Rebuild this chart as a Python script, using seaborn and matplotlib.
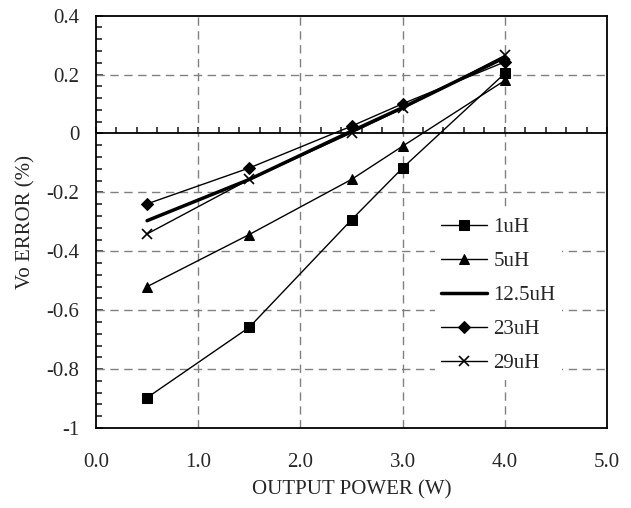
import numpy as np
import pandas as pd
import matplotlib
matplotlib.use("Agg")
import matplotlib.pyplot as plt
import seaborn as sns
from matplotlib.ticker import MultipleLocator, FixedLocator

# ---- data ----
power = [0.5, 1.5, 2.5, 3.0, 4.0]
err_1uH = [-0.897, -0.658, -0.293, -0.117, 0.204]
err_5uH = [-0.52, -0.343, -0.156, -0.043, 0.18]
err_12_5uH = [-0.296, -0.156, 0.008, 0.088, 0.258]
err_23uH = [-0.239, -0.117, 0.025, 0.101, 0.243]
err_29uH = [-0.341, -0.156, 0.002, 0.085, 0.265]
series_names = ["1uH", "5uH", "12.5uH", "23uH", "29uH"]
x_ticks = [0.0, 1.0, 2.0, 3.0, 4.0, 5.0]
x_tick_labels = ["0.0", "1.0", "2.0", "3.0", "4.0", "5.0"]
y_ticks = [-1.0, -0.8, -0.6, -0.4, -0.2, 0.0, 0.2, 0.4]
y_tick_labels = ["-1", "-0.8", "-0.6", "-0.4", "-0.2", "0", "0.2", "0.4"]

sns.set_theme(style="white")
plt.rcParams['font.family'] = ['Liberation Serif', 'DejaVu Serif']
FS = 15

fig = plt.figure(figsize=(6.31, 5.08), dpi=100)
ax = fig.add_axes([96/631, 1-428/508, (607-96)/631, (428-15.7)/508])

styles = {
    "1uH": dict(marker="s", markersize=6.5, lw=1.0),
    "5uH": dict(marker="^", markersize=7, lw=1.0),
    "12.5uH": dict(marker=None, lw=2.5),
    "23uH": dict(marker="D", markersize=6, lw=1.0),
    "29uH": dict(marker="x", markersize=7.5, lw=1.0, markeredgewidth=1.2),
}
values = [err_1uH, err_5uH, err_12_5uH, err_23uH, err_29uH]
for name, vals in zip(series_names, values):
    df = pd.DataFrame({"x": power, "y": vals})
    st = styles[name]
    kw = dict(color="black", linewidth=st["lw"], label=name, zorder=3)
    if st["marker"]:
        kw.update(marker=st["marker"], markersize=st["markersize"],
                  markeredgecolor="black", markerfacecolor="black")
        if "markeredgewidth" in st:
            kw["markeredgewidth"] = st["markeredgewidth"]
    sns.lineplot(data=df, x="x", y="y", ax=ax, **kw)

ax.set_xlim(0, 5)
ax.set_ylim(-1, 0.4)

# grid
for gx in [1, 2, 3, 4]:
    ax.axvline(gx, color="#808080", lw=1.0, dashes=(6, 4), zorder=1)
for gy in [-0.8, -0.6, -0.4, -0.2, 0.2]:
    ax.axhline(gy, color="#808080", lw=1.0, dashes=(6, 4), zorder=1)
ax.axhline(0, color="black", lw=1.3, zorder=2)

# main x axis: labels only
ax.xaxis.set_major_locator(FixedLocator(x_ticks))
ax.set_xticklabels(x_tick_labels, fontsize=FS)
ax.tick_params(axis="x", which="both", length=0, pad=18)

# y axis
ax.yaxis.set_major_locator(FixedLocator(y_ticks))
ax.set_yticklabels(y_tick_labels, fontsize=FS)
ax.yaxis.set_minor_locator(MultipleLocator(0.04))
ax.tick_params(axis="y", which="major", direction="in", length=5, width=1.2, pad=12, left=True)
ax.tick_params(axis="y", which="minor", direction="in", length=4, width=1.2, left=True)

# ticks on zero line (pointing up only)
sec = ax.secondary_xaxis(1/1.4)
sec.xaxis.set_major_locator(MultipleLocator(0.2))
sec.tick_params(axis="x", which="both", direction="in", length=4, width=1.2,
                labelbottom=False, labeltop=False, bottom=True, top=False)
sec.set_xticklabels([])
for s in sec.spines.values():
    s.set_visible(False)

for sp in ax.spines.values():
    sp.set_color("black")
    sp.set_linewidth(1.3)
    sp.set_visible(True)

ax.set_xlabel("OUTPUT POWER (W)", fontsize=FS, labelpad=6)
ax.set_ylabel("Vo ERROR (%)", fontsize=FS, labelpad=8)

leg = ax.legend(loc="upper left", bbox_to_anchor=((435-96)/511, (428-211)/412.3),
                fontsize=FS, frameon=True, facecolor="white", edgecolor="none",
                framealpha=1, fancybox=False, handlelength=2.2, labelspacing=0.7,
                borderaxespad=0, borderpad=0.3, handletextpad=0.3)
leg.set_zorder(5)

fig.savefig("out.png", dpi=100)
